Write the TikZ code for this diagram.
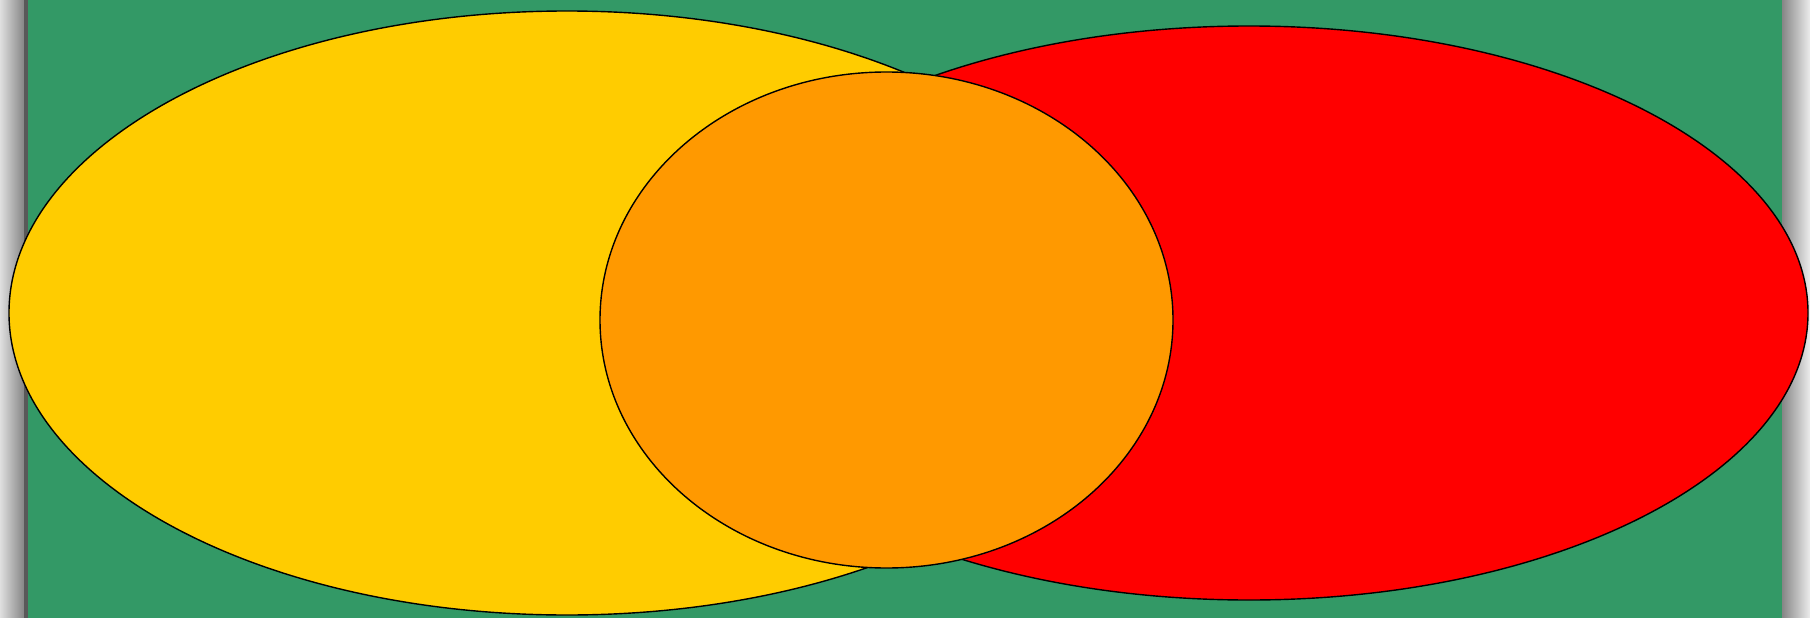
\documentclass[tikz,border=0pt]{standalone}
\begin{document}
\begin{tikzpicture}[x=1pt,y=-1pt,
  blob/.style={draw=black,line width=1.4pt}]
\definecolor{bggreen}{RGB}{51,153,102}
\definecolor{cyellow}{RGB}{255,204,0}
\definecolor{cred}{RGB}{255,0,0}
\definecolor{corange}{RGB}{255,153,0}
\useasboundingbox (0,0) rectangle (1810,618);
\fill[bggreen] (0,0) rectangle (1810,618);
\shade[left color=gray!25,right color=gray!95] (0,0) rectangle (24,618);
\fill[black!65] (24,0) rectangle (28,618);
\shade[left color=gray!95,right color=gray!15] (1782,0) rectangle (1810,618);
\fill[cyellow,blob] (567,313) ellipse [x radius=558,y radius=302] coordinate (yellow);
\fill[cred,blob] (1249,313) ellipse [x radius=559,y radius=287] coordinate (red);
\fill[corange,blob] (886.5,320) ellipse [x radius=286.5,y radius=248] coordinate (orange);
\end{tikzpicture}
\end{document}
